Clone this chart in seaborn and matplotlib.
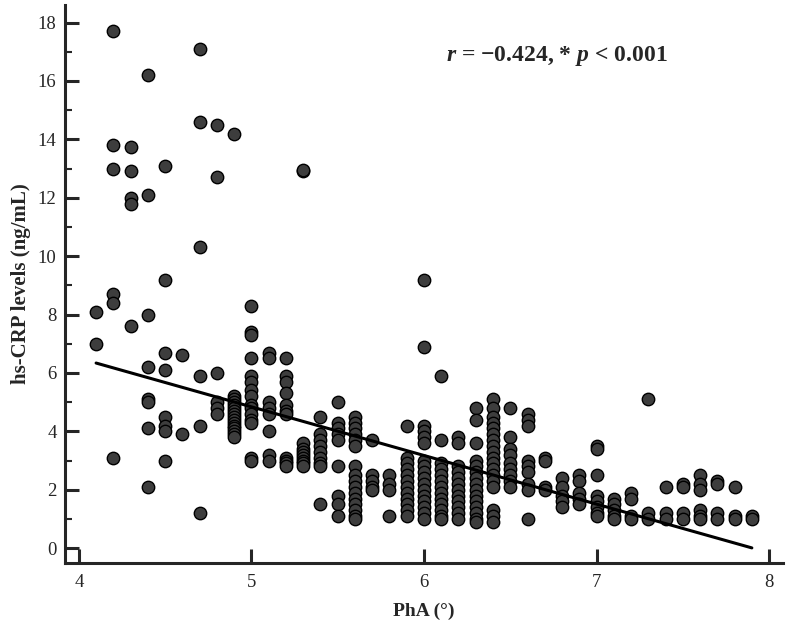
import numpy as np
import pandas as pd
import matplotlib
matplotlib.use("Agg")
import matplotlib.pyplot as plt
import seaborn as sns
from matplotlib.ticker import MultipleLocator

# --- DATA ---
pha_values = [4.1, 4.2, 4.3, 4.4, 4.5, 4.6, 4.7, 4.8, 4.9, 5.0,
              5.1, 5.2, 5.3, 5.4, 5.5, 5.6, 5.7, 5.8, 5.9, 6.0,
              6.1, 6.2, 6.3, 6.4, 6.5, 6.6, 6.7, 6.8, 6.9, 7.0,
              7.1, 7.2, 7.3, 7.4, 7.5, 7.6, 7.7, 7.8, 7.9]

crp_by_pha = [
    [8.1, 7.0],
    [17.7, 13.8, 13.0, 8.7, 8.4, 3.1],
    [13.75, 12.9, 12.0, 11.8, 7.6],
    [16.2, 12.1, 8.0, 6.2, 5.1, 5.0, 4.1, 2.1],
    [13.1, 9.2, 6.7, 6.1, 4.5, 4.2, 4.0, 3.0],
    [6.6, 3.9],
    [17.1, 14.6, 10.3, 5.9, 4.2, 1.2],
    [14.5, 12.7, 6.0, 5.0, 4.8, 4.6],
    [14.2, 5.2, 5.1, 5.0, 4.9, 4.8, 4.7, 4.6, 4.5, 4.4, 4.3, 4.2, 4.1, 4.0, 3.9, 3.8],
    [8.3, 7.4, 7.3, 6.5, 5.9, 5.7, 5.4, 5.2, 4.9, 4.8, 4.6, 4.4, 4.3, 3.1, 3.0],
    [6.7, 6.5, 5.0, 4.8, 4.6, 4.0, 3.2, 3.0],
    [6.5, 5.9, 5.7, 5.3, 4.9, 4.7, 4.6, 3.1, 3.0, 2.9, 2.8],
    [12.9, 12.95, 3.6, 3.4, 3.3, 3.2, 3.1, 3.0, 2.9, 2.8],
    [4.5, 3.9, 3.7, 3.5, 3.3, 3.1, 2.9, 2.8, 1.5],
    [5.0, 4.3, 4.1, 3.9, 3.7, 2.8, 1.8, 1.5, 1.1],
    [4.5, 4.3, 4.1, 3.9, 3.7, 3.5, 2.8, 2.5, 2.3, 2.1, 1.9, 1.7, 1.5, 1.3, 1.1, 1.0],
    [3.7, 2.5, 2.3, 2.1, 2.0],
    [2.5, 2.2, 2.0, 1.1],
    [4.2, 3.1, 2.9, 2.7, 2.5, 2.3, 2.1, 1.9, 1.7, 1.5, 1.3, 1.1],
    [9.2, 6.9, 4.2, 4.0, 3.8, 3.6, 3.0, 2.8, 2.6, 2.4, 2.2, 2.0, 1.8, 1.6, 1.4, 1.2, 1.0],
    [5.9, 3.7, 2.9, 2.7, 2.5, 2.3, 2.1, 1.9, 1.7, 1.5, 1.3, 1.1, 1.0],
    [3.8, 3.6, 2.8, 2.6, 2.4, 2.2, 2.0, 1.8, 1.6, 1.4, 1.2, 1.0],
    [4.8, 4.4, 3.6, 3.0, 2.8, 2.6, 2.4, 2.2, 2.0, 1.8, 1.6, 1.4, 1.2, 1.0, 0.9],
    [5.1, 4.8, 4.5, 4.3, 4.1, 3.9, 3.7, 3.5, 3.3, 3.1, 2.9, 2.7, 2.5, 2.3, 2.1, 1.3, 1.1, 0.9],
    [4.8, 3.8, 3.4, 3.2, 2.9, 2.7, 2.5, 2.3, 2.1],
    [4.6, 4.4, 4.2, 3.0, 2.8, 2.6, 2.2, 2.0, 1.0],
    [3.1, 3.0, 2.1, 2.0],
    [2.4, 2.1, 1.8, 1.6, 1.4],
    [2.5, 2.3, 1.9, 1.7, 1.5],
    [3.5, 3.4, 2.5, 1.8, 1.6, 1.4, 1.2, 1.1],
    [1.7, 1.5, 1.3, 1.1, 1.0],
    [1.9, 1.7, 1.1, 1.0],
    [5.1, 1.2, 1.0],
    [2.1, 1.2, 1.0],
    [2.2, 2.1, 1.2, 1.0],
    [2.5, 2.2, 2.0, 1.3, 1.1, 1.0],
    [2.3, 2.2, 1.2, 1.0],
    [2.1, 1.1, 1.0],
    [1.1, 1.0],
]

# fitted line as drawn in the figure (full data set is denser than what is visible)
fit_slope = -1.666
fit_intercept = 13.17
fit_x_range = [4.1, 7.9]

x_ticks = [4, 5, 6, 7, 8]
y_ticks = [0, 2, 4, 6, 8, 10, 12, 14, 16, 18]
stat_text = "$r$ = \u22120.424, * $p$ < 0.001"

# --- BUILD TABLES ---
rows = []
for pha, crps in zip(pha_values, crp_by_pha):
    for c in crps:
        rows.append({"PhA": pha, "CRP": c})
df = pd.DataFrame(rows)

fit_df = pd.DataFrame({"PhA": fit_x_range})
fit_df["CRP"] = fit_intercept + fit_slope * fit_df["PhA"]

# --- PLOT ---
sns.set_style("ticks")
plt.rcParams["font.family"] = ["Liberation Serif", "DejaVu Serif"]
plt.rcParams["mathtext.fontset"] = "custom"
plt.rcParams["mathtext.it"] = "Liberation Serif:italic:bold"
plt.rcParams["mathtext.rm"] = "Liberation Serif:bold"

fig = plt.figure(figsize=(7.91, 6.27), dpi=100)
ax = fig.add_axes([0.082, 0.102, 0.908, 0.89])

sns.scatterplot(data=df, x="PhA", y="CRP", ax=ax, s=80, color="#3d3d3d",
                edgecolor="black", linewidth=1.0, zorder=2)
sns.lineplot(data=fit_df, x="PhA", y="CRP", ax=ax, color="black", lw=2.2, zorder=3)

ax.set_xlim(3.919, 8.081)
ax.set_ylim(-0.51, 18.6)
ax.set_xticks(x_ticks)
ax.set_yticks(y_ticks)
ax.yaxis.set_minor_locator(MultipleLocator(1))
ax.tick_params(axis="both", which="major", direction="in", length=10, width=2.2,
               labelsize=13.5)
ax.tick_params(axis="x", which="major", pad=8)
ax.tick_params(axis="y", which="major", pad=6)
ax.tick_params(axis="y", which="minor", direction="in", length=5, width=1.5)
for side in ["left", "bottom"]:
    ax.spines[side].set_linewidth(2.2)
sns.despine(ax=ax)

ax.set_xlabel("PhA (\u00b0)", fontsize=14, fontweight="bold", labelpad=8)
ax.set_ylabel("hs-CRP levels (ng/mL)", fontsize=15, fontweight="bold", labelpad=5)
ax.text(0.84, 0.908, stat_text, transform=ax.transAxes, ha="right", va="center",
        fontsize=17, fontweight="bold")

fig.savefig("out.png", dpi=100)
